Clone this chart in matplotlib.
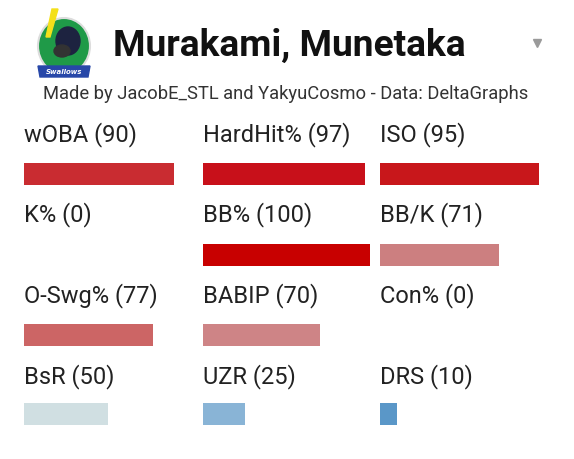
import matplotlib.pyplot as plt
from matplotlib import font_manager
from matplotlib.patches import Ellipse, Polygon

# data
metrics = ["wOBA", "HardHit%", "ISO",
           "K%", "BB%", "BB/K",
           "O-Swg%", "BABIP", "Con%",
           "BsR", "UZR", "DRS"]
scores = [90, 97, 95,
          0, 100, 71,
          77, 70, 0,
          50, 25, 10]
bar_colors = ["#c92c31", "#c8101a", "#c8171b",
              "#c80000", "#c80000", "#cc7f80",
              "#cc6565", "#ce8486", "#cccccc",
              "#d0dfe2", "#89b4d6", "#5a97c8"]

player = "Murakami, Munetaka"
credit = "Made by JacobE_STL and YakyuCosmo - Data: DeltaGraphs"

names = {f.name for f in font_manager.fontManager.ttflist}
narrow = "Liberation Sans Narrow" if "Liberation Sans Narrow" in names else "Roboto"

W, H = 574, 460
fig = plt.figure(figsize=(W / 100, H / 100), dpi=100)
fig.patch.set_facecolor("white")

def px(x, y, w, h):
    return [x / W, 1 - (y + h) / H, w / W, h / H]

# header
hdr = fig.add_axes([0, 0, 1, 1])
hdr.set_xlim(0, W)
hdr.set_ylim(H, 0)
hdr.axis("off")

# rough stand-in for the team logo
hdr.add_patch(Ellipse((64, 47), 52, 56, color="#1f9a48", ec="#dddddd", lw=1.5))
hdr.add_patch(Ellipse((68, 42), 24, 28, color="#1d2340"))
hdr.add_patch(Ellipse((62, 52), 16, 12, color="#333333"))
hdr.add_patch(Polygon([[52, 10], [58, 10], [50, 38], [46, 38]], color="#f4e01a"))
hdr.add_patch(Polygon([[38, 67], [90, 67], [88, 78], [40, 78]], color="#2747a8"))
hdr.text(64, 72.5, "Swallows", ha="center", va="center", fontsize=5,
         color="white", fontweight="bold", style="italic")

hdr.text(113, 46, player, ha="left", va="center", fontsize=26.7,
         fontweight="bold", color="#111111", family=narrow)
hdr.plot([537], [44], marker="v", markersize=6, color="#9a9a9a")
hdr.text(285.5, 94, credit, ha="center", va="center", fontsize=13.2,
         color="#333333", family=narrow)

col_x = [24, 203, 380]
label_y = [135, 215, 296, 377]
bar_y = [164, 245, 325, 404]
bar_w, bar_h = 167, 22

for i, (m, s, c) in enumerate(zip(metrics, scores, bar_colors)):
    r, k = divmod(i, 3)
    hdr.text(col_x[k], label_y[r], f"{m} ({s})", ha="left", va="center",
             fontsize=17, color="#222222", family=narrow)
    ax = fig.add_axes(px(col_x[k], bar_y[r], bar_w, bar_h))
    ax.barh([0], [s], height=1.0, color=c, edgecolor="none")
    ax.set_xlim(0, 100)
    ax.set_ylim(-0.5, 0.5)
    ax.axis("off")

fig.savefig("out.png", dpi=100, facecolor="white")
